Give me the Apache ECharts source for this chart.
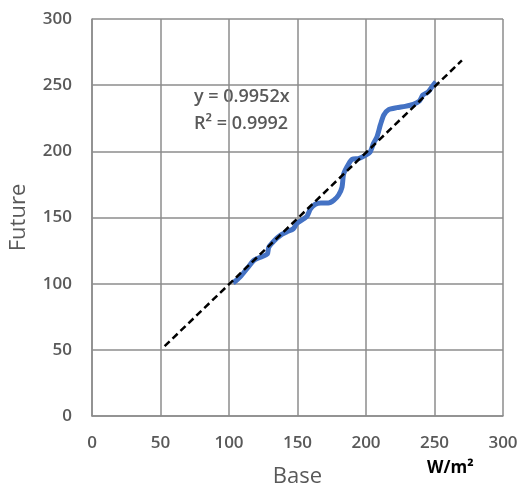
<!DOCTYPE html>
<html><head><meta charset="utf-8">
<script src="https://cdn.jsdelivr.net/npm/echarts@6/dist/echarts.min.js"></script>
<style>html,body{margin:0;padding:0;background:#fff}#c{width:532px;height:486px}</style>
</head><body><div id="c"></div>
<script>
var baseVals = [103,108,114,118,123,128,129,133,137.5,142,147,149.5,154.5,157,159.5,163,167,172.5,176.5,180,182.5,183.7,187.3,190,194.5,199.5,203,205.5,208,210.5,213,216.5,222.5,228.5,234.5,239,241.5,245.5,249,251];
var futureVals = [100.5,105,112.5,117.5,120,122.5,127.5,132.5,136.5,139,141.5,145.5,149,151,156.5,160,161,161,163,167,173,183,190.5,194,194.5,197,199.5,206,211,220,227.5,231.5,233,234,235.5,238,242.5,245,250,252.5];
var trendX = [53, 270];
var slope = 0.9952;
var xTicks = [0,50,100,150,200,250,300];
var yTicks = [0,50,100,150,200,250,300];

var chart = echarts.init(document.getElementById('c'));
var lbl = {color:'#595959', fontSize:17, fontWeight:600, fontFamily:'Open Sans'};
chart.setOption({
  animation:false,
  grid:{left:92, right:29, top:19, bottom:70, containLabel:false, outerBoundsMode:'none'},
  xAxis:{type:'value', min:0, max:300, interval:50,
    axisLine:{show:true, onZero:false, lineStyle:{color:'#8c8c8c', width:1.5}},
    axisTick:{show:false},
    splitLine:{show:true, lineStyle:{color:'#8c8c8c', width:1.5}},
    axisLabel:Object.assign({margin:19}, lbl),
    name:'Base', nameLocation:'middle', nameGap:50,
    nameTextStyle:{color:'#595959', fontSize:22, fontFamily:'Open Sans'}
  },
  yAxis:{type:'value', min:0, max:300, interval:50,
    axisLine:{show:true, lineStyle:{color:'#8c8c8c', width:1.5}},
    axisTick:{show:false},
    splitLine:{show:true, lineStyle:{color:'#8c8c8c', width:1.5}},
    axisLabel:Object.assign({margin:20}, lbl),
    name:'Future', nameLocation:'middle', nameGap:62,
    nameTextStyle:{color:'#595959', fontSize:22, fontFamily:'Open Sans'}
  },
  graphic:[
    {type:'text', left:194, top:88, style:{text:'y = 0.9952x', fill:'#595959', font:'600 18px Open Sans'}},
    {type:'text', left:194, top:115, style:{text:'R² = 0.9992', fill:'#595959', font:'600 18px Open Sans'}},
    {type:'text', left:427, top:460, style:{text:'W/m²', fill:'#000', font:'bold 17px Open Sans'}}
  ],
  series:[
    {type:'line', data:baseVals.map(function(x,i){return [x,futureVals[i]];}),
     smooth:0.25, showSymbol:false, lineStyle:{color:'#4472C4', width:5}, z:2},
    {type:'line', data:trendX.map(function(x){return [x, slope*x];}),
     showSymbol:false, lineStyle:{color:'#000', width:2.5, type:[7,4]}, z:3}
  ]
});
</script></body></html>
